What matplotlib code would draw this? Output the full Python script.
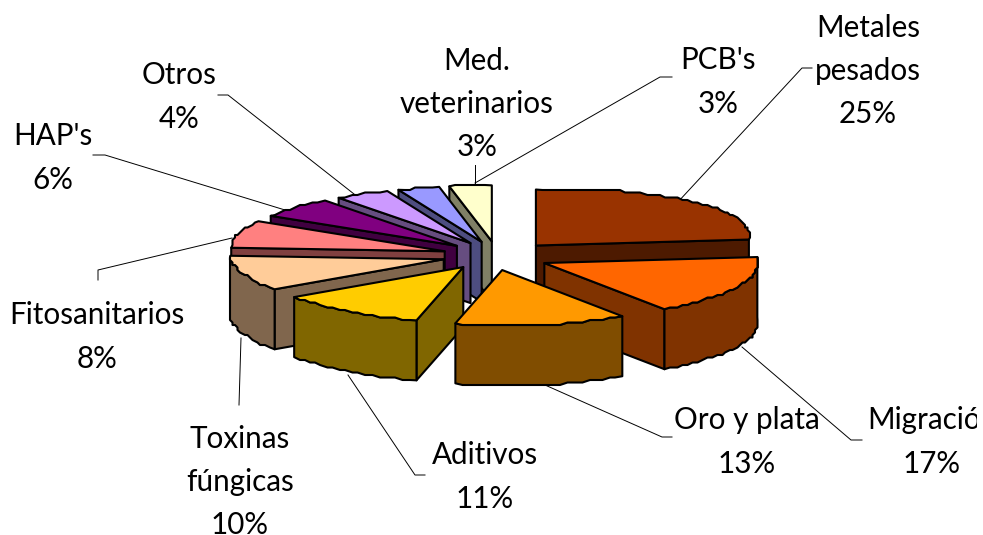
#!/usr/bin/env python3
"""Exploded 3D pie, contaminants by share."""

import numpy as np
import matplotlib
matplotlib.use("Agg")
import matplotlib.pyplot as plt
from matplotlib.patches import Polygon, Rectangle

W, H = 983, 535

labels = ["Metales\npesados", "Migración", "Oro y plata", "Aditivos", "Toxinas\nfúngicas",
          "Fitosanitarios", "HAP's", "Otros", "Med.\nveterinarios", "PCB's"]
values = [25, 17, 13, 11, 10, 8, 6, 4, 3, 3]
top_colors = ["#993300", "#FF6600", "#FF9900", "#FFCC00", "#FFCC99",
              "#FF8080", "#800080", "#CC99FF", "#9999FF", "#FFFFCC"]
side_colors = ["#4D1A00", "#803300", "#804D00", "#806600", "#80664D",
               "#804040", "#400040", "#664D80", "#4D4D80", "#808066"]

# label centres in pixels
label_x = [868, 932, 747, 485, 240, 97, 53, 179, 477, 718]
label_y = [71, 442, 442, 477, 482, 337, 158, 97, 104, 82]

# leader lines in pixels, from slice to label
leader_x = [[677, 802, 812], [742, 851, 862], [545, 662, 672], [348, 415, 425], [241, 239],
            [232, 98, 98], [285, 105, 93], [354, 228, 218], [475, 475], [475, 660, 672]]
leader_y = [[203, 68, 68], [347, 440, 440], [385, 437, 437], [375, 475, 475], [338, 405],
            [238, 270, 280], [210, 155, 155], [194, 95, 95], [183, 165], [183, 77, 77]]

CX, CY = 497, 255.7
RX, RY = 213, 56
EX, EY = 55, 14.4
DEPTH = 60
GRID = 2.5  # the source outline is slightly stepped, low resolution metafile style


def rim(ax0, ay0, theta):
    u, v = np.sin(theta), np.cos(theta)
    skew = np.where(v < 0, -20 * v, 14 * u * v)
    return ax0 + RX * u + skew, ay0 - RY * v - 6 * np.maximum(u, 0)


def stepped(a):
    out = np.round(a / GRID) * GRID
    out[0], out[-1] = a[0], a[-1]
    return out


def draw_slice(ax, start, end, top, side, z):
    mid = (start + end) / 2
    x0 = CX + EX * np.sin(mid)
    y0 = CY - EY * np.cos(mid)
    theta = np.linspace(start, end, max(8, int((end - start) * 30)))
    xs, ys = rim(x0, y0, theta)
    xs, ys = stepped(xs), stepped(ys)
    style = dict(edgecolor="black", linewidth=1.5, joinstyle="round", zorder=z)

    # radial faces
    for ang, show in ((start, np.sin(start) < -1e-6), (end, np.sin(end) > 1e-6)):
        if show:
            xr, yr = rim(x0, y0, np.array([ang]))
            pts = [(x0, y0), (xr[0], yr[0]), (xr[0], yr[0] + DEPTH), (x0, y0 + DEPTH)]
            ax.add_patch(Polygon(pts, facecolor=side, **style))

    # outer wall, front half only
    front = np.cos(theta) < 0.03
    if front.sum() > 1:
        wx, wy = xs[front], ys[front]
        pts = np.r_[np.c_[wx, wy], np.c_[wx[::-1], wy[::-1] + DEPTH]]
        ax.add_patch(Polygon(pts, facecolor=side, **style))

    pts = np.r_[[[x0, y0]], np.c_[xs, ys]]
    ax.add_patch(Polygon(pts, facecolor=top, **style))


fig = plt.figure(figsize=(W / 100, H / 100), dpi=100)
ax = fig.add_axes([0, 0, 1, 1])
ax.set_xlim(0, W)
ax.set_ylim(H, 0)
ax.axis("off")

edges = np.r_[0, np.cumsum(values)] / sum(values) * 2 * np.pi
mids = (edges[:-1] + edges[1:]) / 2
# paint back to front
order = np.argsort(-np.cos(mids))
for z, i in enumerate(order):
    draw_slice(ax, edges[i], edges[i + 1], top_colors[i], side_colors[i], 3 + z)

for lx, ly in zip(leader_x, leader_y):
    ax.plot(lx, ly, color="black", lw=0.7, zorder=2)

clip = Rectangle((0, 0), 977, H, transform=ax.transData)
for name, val, x, y in zip(labels, values, label_x, label_y):
    t = ax.text(x, y, f"{name}\n{val}%", ha="center", va="center", multialignment="center",
                family="Lato", fontsize=21.3, color="black", linespacing=1.656, zorder=40)
    t.set_clip_path(clip)
    t.set_clip_on(True)

fig.savefig("out.png", dpi=100)
